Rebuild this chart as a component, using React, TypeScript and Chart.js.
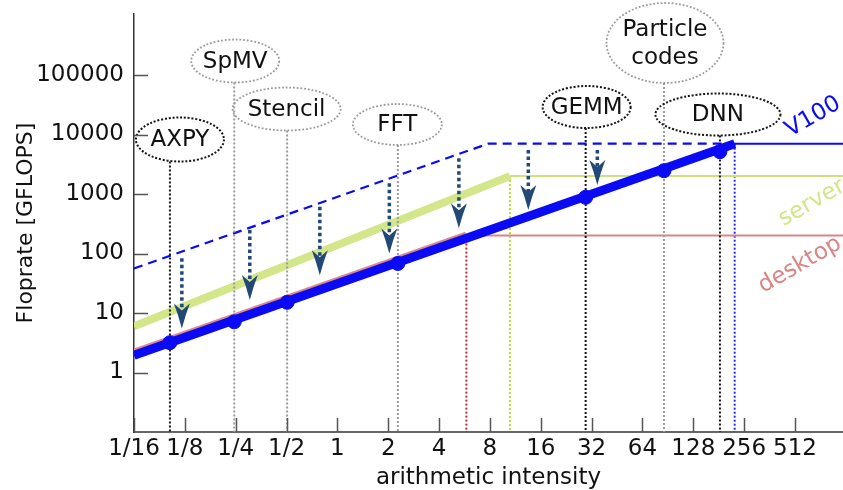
import { useEffect, useRef } from 'react';
import { Chart, registerables } from 'chart.js';

Chart.register(...registerables);

const FONT = '"DejaVu Sans", "Liberation Sans", sans-serif';

// Axis ticks (arithmetic intensity in FLOP/byte, floprate in GFLOPS)
const X_TICKS = [1 / 16, 1 / 8, 1 / 4, 1 / 2, 1, 2, 4, 8, 16, 32, 64, 128, 256, 512];
const X_TICK_LABELS = ['1/16', '1/8', '1/4', '1/2', '1', '2', '4', '8', '16', '32', '64', '128', '256', '512'];
const Y_TICKS = [1, 10, 100, 1000, 10000, 100000];
const Y_TICK_LABELS = ['1', '10', '100', '1000', '10000', '100000'];

// Roofline corners: intensity / GFLOPS
const V100_THEORY_AI = [1 / 16, 7.8, 225];
const V100_THEORY_GF = [56, 7000, 7000];
const V100_ROOF_AI = [1 / 16, 225];
const V100_ROOF_GF = [1.95, 7000];
const V100_CEIL_AI = [225, 985];
const V100_CEIL_GF = [7000, 7000];
const SERVER_ROOF_AI = [1 / 16, 10.5];
const SERVER_ROOF_GF = [6, 2000];
const SERVER_CEIL_AI = [10.5, 985];
const SERVER_CEIL_GF = [2000, 2000];
const DESKTOP_ROOF_AI = [1 / 16, 5.8];
const DESKTOP_ROOF_GF = [2.2, 205];
const DESKTOP_CEIL_AI = [5.8, 985];
const DESKTOP_CEIL_GF = [200, 200];
const FLOOR_GF = 0.1;

// Application kernels placed on the V100 roof
const KERNELS = ['AXPY', 'SpMV', 'Stencil', 'FFT', 'GEMM', 'Particle\ncodes', 'DNN'];
const KERNEL_AI = [0.102, 0.245, 0.504, 2.28, 29.5, 85.8, 184];
const KERNEL_GF = [3.17, 7.1, 15.1, 68, 880, 2460, 5140];
const KERNEL_DARK = [true, false, false, false, true, false, true];

// Drop from theoretical to achievable performance
const ARROW_AI = [0.12, 0.303, 0.787, 2.03, 5.24, 13.5, 34.6];
const ARROW_FROM_GF = [83, 248, 611, 1510, 3980, 5480, 5480];
const ARROW_TO_GF = [5.5, 16.5, 43, 100, 265, 537, 1416];

// Label bubble layout (pixel offsets from the kernel's x, centre y, radii)
const BUBBLES = [
  { dx: 10, cy: 139.5, rx: 44, ry: 22 },
  { dx: 1, cy: 61, rx: 44, ry: 21.5 },
  { dx: -0.5, cy: 109, rx: 54, ry: 21.5 },
  { dx: -0.5, cy: 124.5, rx: 44.5, ry: 20.5 },
  { dx: 1, cy: 107, rx: 44, ry: 21 },
  { dx: 1, cy: 43, rx: 58.5, ry: 40 },
  { dx: -2, cy: 114.5, rx: 62.5, ry: 21 },
];

const BLUE = '#0a0af5';
const GREEN = '#d3e68a';
const GREEN_THIN = '#cfe27e';
const RED = '#d98a8a';
const RED_THIN = '#d98585';
const ARROW_COLOR = '#224876';

const pts = (xs: number[], ys: number[]) => xs.map((x, i) => ({ x, y: ys[i] }));

const DESKTOP_INDEX = 2;

function drawKernelGuides(chart: any) {
  const { ctx, chartArea } = chart;
  const xs = chart.scales.x;
  ctx.save();
  KERNEL_AI.forEach((ai, i) => {
    const x = xs.getPixelForValue(ai);
    const b = BUBBLES[i];
    const dark = KERNEL_DARK[i];
    ctx.strokeStyle = dark ? '#151515' : '#9a9a9a';
    ctx.lineWidth = 2;
    ctx.setLineDash([2, 2]);
    ctx.beginPath();
    ctx.moveTo(x, b.cy + b.ry);
    ctx.lineTo(x, chartArea.bottom);
    ctx.stroke();

    const cx = x + b.dx;
    ctx.lineWidth = dark ? 2 : 1.8;
    ctx.setLineDash(dark ? [2, 1.8] : [1.8, 1.9]);
    ctx.beginPath();
    ctx.ellipse(cx, b.cy, b.rx, b.ry, 0, 0, Math.PI * 2);
    ctx.stroke();

    ctx.setLineDash([]);
    ctx.fillStyle = '#111';
    ctx.font = `23px ${FONT}`;
    ctx.textAlign = 'center';
    ctx.textBaseline = 'middle';
    const lines = KERNELS[i].split('\n');
    const lh = 28;
    lines.forEach((t, k) => {
      ctx.fillText(t, cx, b.cy + 1 + (k - (lines.length - 1) / 2) * lh);
    });
  });
  ctx.restore();
}

function drawArrows(chart: any) {
  const { ctx } = chart;
  const xs = chart.scales.x;
  const ys = chart.scales.y;
  const headLen = 25;
  const notch = 18;
  const half = 8;
  ctx.save();
  ARROW_AI.forEach((ai, i) => {
    const x = xs.getPixelForValue(ai);
    const y0 = ys.getPixelForValue(ARROW_FROM_GF[i]);
    const y1 = ys.getPixelForValue(ARROW_TO_GF[i]);
    ctx.strokeStyle = ARROW_COLOR;
    ctx.lineWidth = 3.5;
    ctx.setLineDash([3.5, 3]);
    ctx.beginPath();
    ctx.moveTo(x, y0);
    ctx.lineTo(x, y1 - notch);
    ctx.stroke();
    ctx.setLineDash([]);
    ctx.fillStyle = ARROW_COLOR;
    ctx.beginPath();
    ctx.moveTo(x, y1);
    ctx.quadraticCurveTo(x - half * 0.45, y1 - headLen * 0.55, x - half, y1 - headLen);
    ctx.lineTo(x, y1 - notch);
    ctx.lineTo(x + half, y1 - headLen);
    ctx.quadraticCurveTo(x + half * 0.45, y1 - headLen * 0.55, x, y1);
    ctx.closePath();
    ctx.fill();
  });
  ctx.restore();
}

function drawTickMarks(chart: any) {
  const { ctx, chartArea } = chart;
  const xs = chart.scales.x;
  const ys = chart.scales.y;
  ctx.save();
  ctx.strokeStyle = '#555';
  ctx.lineWidth = 1.5;
  ctx.beginPath();
  X_TICKS.forEach((v) => {
    const x = Math.round(xs.getPixelForValue(v)) + 0.5;
    ctx.moveTo(x, chartArea.bottom);
    ctx.lineTo(x, chartArea.bottom - 14);
  });
  Y_TICKS.forEach((v) => {
    const y = Math.round(ys.getPixelForValue(v)) + 0.5;
    ctx.moveTo(chartArea.left, y);
    ctx.lineTo(chartArea.left + 14, y);
  });
  ctx.stroke();
  ctx.restore();
}

const ROOF_LABELS = [
  { text: 'V100', color: BLUE, x: 813, y: 117 },
  { text: 'server', color: GREEN, x: 812, y: 203 },
  { text: 'desktop', color: RED_THIN, x: 800, y: 265 },
];

function drawRoofLabels(chart: any) {
  const { ctx } = chart;
  ctx.save();
  ctx.font = `23px ${FONT}`;
  ctx.textAlign = 'center';
  ctx.textBaseline = 'middle';
  ROOF_LABELS.forEach((l) => {
    ctx.save();
    ctx.translate(l.x, l.y);
    ctx.rotate(-Math.PI / 6);
    ctx.fillStyle = l.color;
    ctx.fillText(l.text, 0, 0);
    ctx.restore();
  });
  ctx.restore();
}

const rooflinePlugin = {
  id: 'rooflineDecor',
  beforeDatasetDraw(chart: any, args: any) {
    if (args.index === DESKTOP_INDEX) drawKernelGuides(chart);
  },
  afterDatasetsDraw(chart: any) {
    drawArrows(chart);
  },
  afterDraw(chart: any) {
    drawTickMarks(chart);
    drawRoofLabels(chart);
  },
};

export default function App() {
  const ref = useRef<HTMLCanvasElement | null>(null);

  useEffect(() => {
    if (!ref.current) return;
    Chart.defaults.font.family = FONT;
    const line = (data: any, color: string, width: number, order: number, extra: any = {}) => ({
      data,
      showLine: true,
      borderColor: color,
      backgroundColor: color,
      borderWidth: width,
      pointRadius: 0,
      order,
      borderCapStyle: 'butt',
      borderJoinStyle: 'miter',
      ...extra,
    });

    const chart = new Chart(ref.current, {
      type: 'scatter',
      data: {
        datasets: [
          {
            data: pts(KERNEL_AI, KERNEL_GF),
            showLine: false,
            pointRadius: 7,
            pointBackgroundColor: BLUE,
            pointBorderColor: BLUE,
            order: 0,
          } as any,
          line(pts(V100_ROOF_AI, V100_ROOF_GF), BLUE, 9, 1),
          line(pts(DESKTOP_ROOF_AI, DESKTOP_ROOF_GF), RED, 7, 2),
          line(pts(SERVER_ROOF_AI, SERVER_ROOF_GF), GREEN, 8, 3),
          line(pts(V100_THEORY_AI, V100_THEORY_GF), BLUE, 2.2, 4, { borderDash: [9, 6] }),
          line(pts(V100_CEIL_AI, V100_CEIL_GF), BLUE, 2, 5),
          line(pts(SERVER_CEIL_AI, SERVER_CEIL_GF), GREEN_THIN, 2, 5),
          line(pts(DESKTOP_CEIL_AI, DESKTOP_CEIL_GF), RED_THIN, 2, 5),
          line(pts([V100_CEIL_AI[0], V100_CEIL_AI[0]], [V100_CEIL_GF[0], FLOOR_GF]), '#2a2aff', 2, 6, { borderDash: [2, 2] }),
          line(pts([SERVER_CEIL_AI[0], SERVER_CEIL_AI[0]], [SERVER_CEIL_GF[0], FLOOR_GF]), '#b9d634', 2, 6, { borderDash: [2, 2] }),
          line(pts([DESKTOP_CEIL_AI[0], DESKTOP_CEIL_AI[0]], [DESKTOP_CEIL_GF[0], FLOOR_GF]), '#b83030', 2, 6, { borderDash: [2, 2] }),
        ],
      },
      options: {
        responsive: false,
        devicePixelRatio: 1,
        animation: false,
        events: [],
        layout: { autoPadding: false, padding: { top: 14, right: 0, left: 0, bottom: 0 } },
        plugins: { legend: { display: false }, tooltip: { enabled: false } },
        scales: {
          x: {
            type: 'logarithmic',
            position: 'bottom',
            min: 1 / 16,
            max: 985,
            grid: { display: false, drawTicks: false },
            border: { display: true, color: '#666', width: 2 },
            afterBuildTicks: (scale: any) => {
              scale.ticks = X_TICKS.map((value) => ({ value }));
            },
            afterFit: (scale: any) => {
              scale.height = 58;
              scale.paddingLeft = 0;
              scale.paddingRight = 0;
            },
            ticks: {
              autoSkip: false,
              maxRotation: 0,
              minRotation: 0,
              padding: 3,
              color: '#111',
              font: { size: 23, family: FONT },
              callback: (_v: any, i: number) => X_TICK_LABELS[i],
            },
            title: {
              display: true,
              text: 'arithmetic intensity',
              color: '#111',
              font: { size: 23, family: FONT },
              padding: { top: 0, bottom: -2 },
            },
          },
          y: {
            type: 'logarithmic',
            position: 'left',
            min: 0.1,
            max: 1.06e6,
            grid: { display: false, drawTicks: false },
            border: { display: true, color: '#333', width: 1.5 },
            afterBuildTicks: (scale: any) => {
              scale.ticks = Y_TICKS.map((value) => ({ value }));
            },
            afterFit: (scale: any) => {
              scale.width = 134;
              scale.paddingTop = 0;
              scale.paddingBottom = 0;
            },
            ticks: {
              autoSkip: false,
              padding: 10,
              color: '#111',
              font: { size: 23, family: FONT },
              callback: (_v: any, i: number) => Y_TICK_LABELS[i],
            },
            title: {
              display: true,
              text: 'Floprate [GFLOPS]',
              color: '#111',
              font: { size: 22, family: FONT },
              padding: { top: 13, bottom: 0 },
            },
          },
        },
      } as any,
      plugins: [rooflinePlugin],
    });
    return () => chart.destroy();
  }, []);

  return (
    <div style={{ position: 'absolute', left: 0, top: 0, width: 843, height: 490, background: '#fff' }}>
      <canvas ref={ref} width={843} height={490} style={{ display: 'block' }} />
    </div>
  );
}
